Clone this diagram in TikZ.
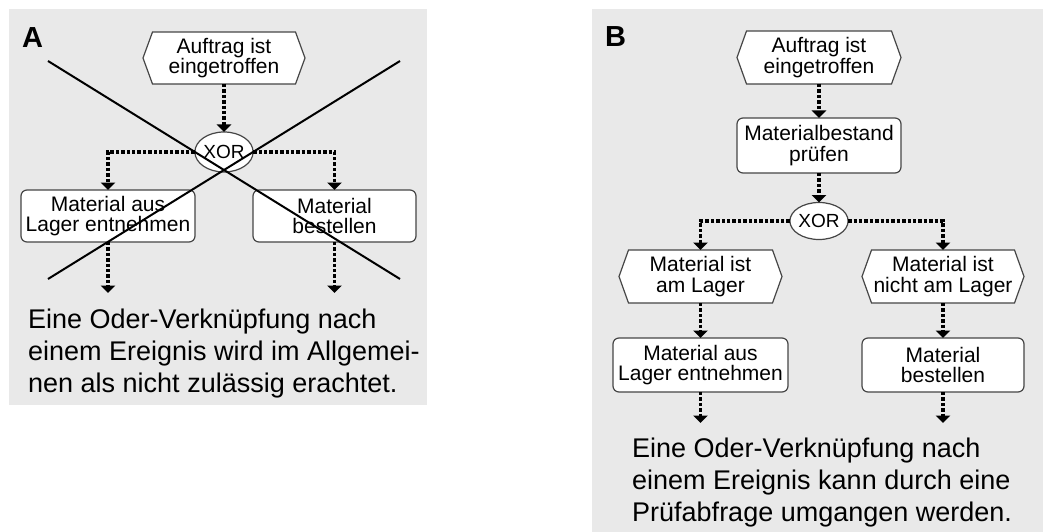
\documentclass[tikz,border=0pt]{standalone}
\usepackage{fontspec}
\setmainfont{Liberation Sans}
\usetikzlibrary{arrows.meta,shapes.geometric}
\pgfdeclarelayer{back}
\pgfdeclarelayer{mid}
\pgfsetlayers{back,mid,main}
\definecolor{panelbg}{RGB}{233,233,233}
\definecolor{edge}{RGB}{70,70,70}
\newcommand\nodefont{\fontsize{21}{20.5}\selectfont}
\newcommand\xorfont{\fontsize{19}{19}\selectfont}
\newcommand\bigtxt{\fontsize{27}{32}\selectfont}
\newcommand\hexframe[1]{%
  \begin{pgfonlayer}{mid}
  \draw[hexline] (#1.west) -- ([xshift=9.5pt]#1.north west) -- ([xshift=-9.5pt]#1.north east)
    -- (#1.east) -- ([xshift=-9.5pt]#1.south east) -- ([xshift=9.5pt]#1.south west) -- cycle;
  \end{pgfonlayer}}
\tikzset{
  panel/.style={fill=panelbg, draw=none},
  hexline/.style={draw=edge, fill=white, line width=1.2pt, line join=miter},
  hexnode/.style={inner sep=0pt, outer sep=0pt, align=center, font=\nodefont},
  funcbox/.style={draw=edge, fill=white, line width=1.2pt, rounded corners=6pt,
    inner sep=0pt, outer sep=0pt, align=center, font=\nodefont},
  xornode/.style={ellipse, draw=edge, fill=white, line width=1.2pt, inner sep=0pt,
    outer sep=0pt, minimum width=48pt, minimum height=40pt, font=\xorfont},
  flow/.style={line width=3.8pt, dash pattern=on 3.4pt off 2pt,
    -{Triangle[width=14.5pt,length=7.5pt]}},
  crossline/.style={line width=2pt, black},
  panellabel/.style={anchor=base west, font=\fontsize{29}{30}\selectfont\bfseries, inner sep=0pt},
  caption/.style={anchor=base west, align=left, font=\bigtxt, inner sep=0pt}
}
\begin{document}
\begin{tikzpicture}[x=1pt,y=-1pt]
\useasboundingbox (0,0) rectangle (1044,532);
\begin{pgfonlayer}{back}
\fill[panel] (9,9) rectangle (427,405);
\fill[panel] (592,9) rectangle (1043,532);
\end{pgfonlayer}

% ---------------- Panel A ----------------
\node[panellabel] (labA) at (22,48) {A};
\node[hexnode, minimum width=162pt, minimum height=52pt] (hexA) at (224,58) {Auftrag ist\\eingetroffen};
\hexframe{hexA}
\node[xornode] (xorA) at (224,152) {XOR};
\node[funcbox, minimum width=174pt, minimum height=52pt] (boxA1) at (108,216) {Material aus\\Lager entnehmen};
\node[funcbox, minimum width=163pt, minimum height=52pt] (boxA2) at (334.5,216) {Material\\bestellen};
\coordinate (endA1) at (108,293);
\coordinate (endA2) at (334.5,293);
\draw[flow] (hexA) -- (xorA);
\draw[flow] (xorA.west) -| (boxA1.north);
\draw[flow] (xorA.east) -| (boxA2.north);
\draw[flow] (boxA1) -- (endA1);
\draw[flow] (boxA2) -- (endA2);
\node[caption] (txtA) at (28,392) {Eine Oder-Verknüpfung nach\\einem Ereignis wird im Allgemei-\\nen als nicht zulässig erachtet.};
\coordinate (xa1) at (48,61);
\coordinate (xa2) at (400,279);
\coordinate (xb1) at (48,279);
\coordinate (xb2) at (400,61);
\draw[crossline] (xa1) -- (xa2);
\draw[crossline] (xb1) -- (xb2);

% ---------------- Panel B ----------------
\node[panellabel] (labB) at (605,47) {B};
\node[hexnode, minimum width=164pt, minimum height=53pt] (hexB) at (819,57.5) {Auftrag ist\\eingetroffen};
\hexframe{hexB}
\node[funcbox, minimum width=164pt, minimum height=55pt] (boxB0) at (819,145.5) {Materialbestand\\prüfen};
\node[xornode, minimum width=46pt, minimum height=37pt] (xorB) at (819,221) {XOR};
\node[hexnode, minimum width=163pt, minimum height=53pt] (hexB1) at (700.5,276.5) {Material ist\\am Lager};
\hexframe{hexB1}
\node[hexnode, minimum width=162pt, minimum height=53pt] (hexB2) at (943,276.5) {Material ist\\nicht am Lager};
\hexframe{hexB2}
\node[funcbox, minimum width=175pt, minimum height=54pt] (boxB1) at (700.5,365) {Material aus\\Lager entnehmen};
\node[funcbox, minimum width=162pt, minimum height=54pt] (boxB2) at (943,365) {Material\\bestellen};
\coordinate (endB1) at (700.5,423);
\coordinate (endB2) at (943,423);
\draw[flow] (hexB) -- (boxB0);
\draw[flow] (boxB0) -- (xorB);
\draw[flow] (xorB.west) -| (hexB1.north);
\draw[flow] (xorB.east) -| (hexB2.north);
\draw[flow] (hexB1) -- (boxB1);
\draw[flow] (hexB2) -- (boxB2);
\draw[flow] (boxB1) -- (endB1);
\draw[flow] (boxB2) -- (endB2);
\node[caption] (txtB) at (632,521) {Eine Oder-Verknüpfung nach\\einem Ereignis kann durch eine\\Prüfabfrage umgangen werden.};
\end{tikzpicture}
\end{document}
